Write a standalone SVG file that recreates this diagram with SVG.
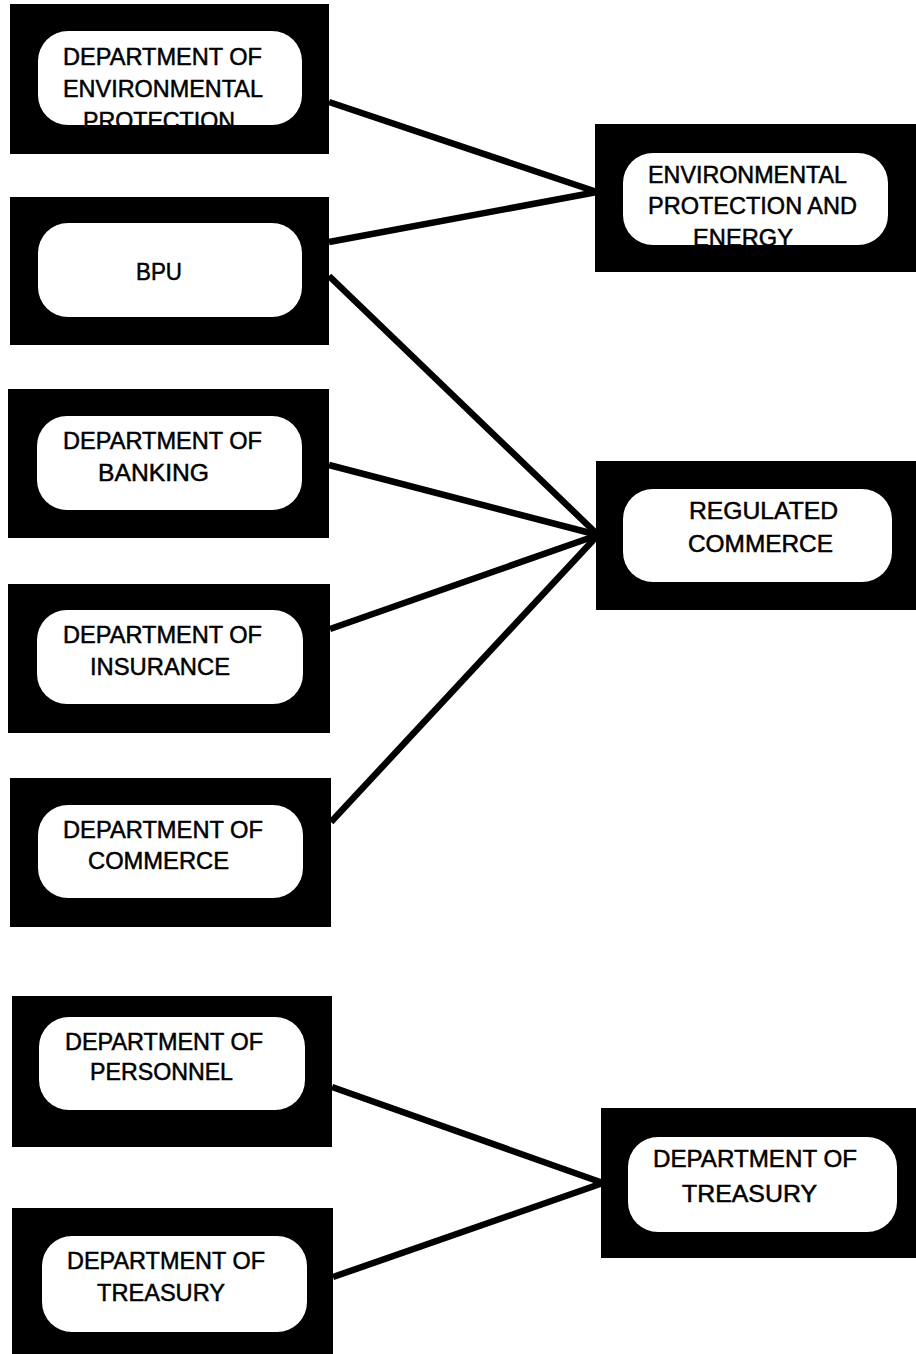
<svg xmlns="http://www.w3.org/2000/svg" width="916" height="1354" viewBox="0 0 916 1354">
<style>
.outer{fill:#000}
.inner{fill:#fff}
.lbl{font-family:"Liberation Sans",Arial,Helvetica,sans-serif;font-size:24px;fill:#000;stroke:#000;stroke-width:0.5}
.conn{stroke:#000;stroke-width:6.5;stroke-linecap:butt;fill:none}
</style>
<defs>
<clipPath id="c1"><rect x="38" y="31" width="264" height="94" rx="30"/></clipPath>
<clipPath id="c3"><rect x="623" y="153" width="265" height="92" rx="30"/></clipPath>
</defs>
<rect x="0" y="0" width="916" height="1354" fill="#fff"/>
<g id="connectors">
<line class="conn" x1="329" y1="102" x2="597" y2="192"/>
<line class="conn" x1="329" y1="242" x2="597" y2="192"/>
<line class="conn" x1="329" y1="276" x2="598" y2="535"/>
<line class="conn" x1="329" y1="465" x2="598" y2="535"/>
<line class="conn" x1="330" y1="629" x2="598" y2="535"/>
<line class="conn" x1="331" y1="822" x2="598" y2="535"/>
<line class="conn" x1="332" y1="1087" x2="603" y2="1183"/>
<line class="conn" x1="333" y1="1277" x2="603" y2="1183"/>
</g>
<g id="dep-env-protection">
<rect class="outer" x="10" y="4" width="319" height="150"/>
<rect class="inner" x="38" y="31" width="264" height="94" rx="30"/>
<g clip-path="url(#c1)">
<text class="lbl" x="63" y="65" textLength="199" lengthAdjust="spacingAndGlyphs">DEPARTMENT OF</text>
<text class="lbl" x="63" y="97" textLength="200" lengthAdjust="spacingAndGlyphs">ENVIRONMENTAL</text>
<text class="lbl" x="83" y="129" textLength="152" lengthAdjust="spacingAndGlyphs">PROTECTION</text>
</g>
</g>
<g id="bpu">
<rect class="outer" x="10" y="197" width="319" height="148"/>
<rect class="inner" x="38" y="223" width="264" height="94" rx="30"/>
<text class="lbl" x="136" y="280" textLength="46" lengthAdjust="spacingAndGlyphs">BPU</text>
</g>
<g id="env-protection-energy">
<rect class="outer" x="595" y="124" width="321" height="148"/>
<rect class="inner" x="623" y="153" width="265" height="92" rx="30"/>
<g clip-path="url(#c3)">
<text class="lbl" x="648" y="183" textLength="199" lengthAdjust="spacingAndGlyphs">ENVIRONMENTAL</text>
<text class="lbl" x="648" y="214" textLength="209" lengthAdjust="spacingAndGlyphs">PROTECTION AND</text>
<text class="lbl" x="693" y="246" textLength="100" lengthAdjust="spacingAndGlyphs">ENERGY</text>
</g>
</g>
<g id="dep-banking">
<rect class="outer" x="8" y="389" width="321" height="149"/>
<rect class="inner" x="37" y="416" width="265" height="94" rx="30"/>
<text class="lbl" x="63" y="449" textLength="199" lengthAdjust="spacingAndGlyphs">DEPARTMENT OF</text>
<text class="lbl" x="98" y="481" textLength="111" lengthAdjust="spacingAndGlyphs">BANKING</text>
</g>
<g id="regulated-commerce">
<rect class="outer" x="596" y="461" width="320" height="149"/>
<rect class="inner" x="623" y="489" width="269" height="93" rx="30"/>
<text class="lbl" x="689" y="519" textLength="149" lengthAdjust="spacingAndGlyphs">REGULATED</text>
<text class="lbl" x="688" y="552" textLength="145" lengthAdjust="spacingAndGlyphs">COMMERCE</text>
</g>
<g id="dep-insurance">
<rect class="outer" x="8" y="584" width="322" height="149"/>
<rect class="inner" x="37" y="610" width="266" height="94" rx="30"/>
<text class="lbl" x="63" y="643" textLength="199" lengthAdjust="spacingAndGlyphs">DEPARTMENT OF</text>
<text class="lbl" x="90" y="675" textLength="140" lengthAdjust="spacingAndGlyphs">INSURANCE</text>
</g>
<g id="dep-commerce">
<rect class="outer" x="10" y="778" width="321" height="149"/>
<rect class="inner" x="38" y="805" width="265" height="93" rx="30"/>
<text class="lbl" x="63" y="838" textLength="200" lengthAdjust="spacingAndGlyphs">DEPARTMENT OF</text>
<text class="lbl" x="88" y="869" textLength="141" lengthAdjust="spacingAndGlyphs">COMMERCE</text>
</g>
<g id="dep-personnel">
<rect class="outer" x="12" y="996" width="320" height="151"/>
<rect class="inner" x="39" y="1017" width="266" height="93" rx="30"/>
<text class="lbl" x="65" y="1050" textLength="198" lengthAdjust="spacingAndGlyphs">DEPARTMENT OF</text>
<text class="lbl" x="90" y="1080" textLength="143" lengthAdjust="spacingAndGlyphs">PERSONNEL</text>
</g>
<g id="dep-treasury-right">
<rect class="outer" x="601" y="1108" width="315" height="150"/>
<rect class="inner" x="628" y="1137" width="269" height="95" rx="30"/>
<text class="lbl" x="653" y="1167" textLength="204" lengthAdjust="spacingAndGlyphs">DEPARTMENT OF</text>
<text class="lbl" x="682" y="1202" textLength="135" lengthAdjust="spacingAndGlyphs">TREASURY</text>
</g>
<g id="dep-treasury-left">
<rect class="outer" x="12" y="1208" width="321" height="146"/>
<rect class="inner" x="42" y="1236" width="265" height="96" rx="30"/>
<text class="lbl" x="67" y="1269" textLength="198" lengthAdjust="spacingAndGlyphs">DEPARTMENT OF</text>
<text class="lbl" x="97" y="1301" textLength="128" lengthAdjust="spacingAndGlyphs">TREASURY</text>
</g>
</svg>
